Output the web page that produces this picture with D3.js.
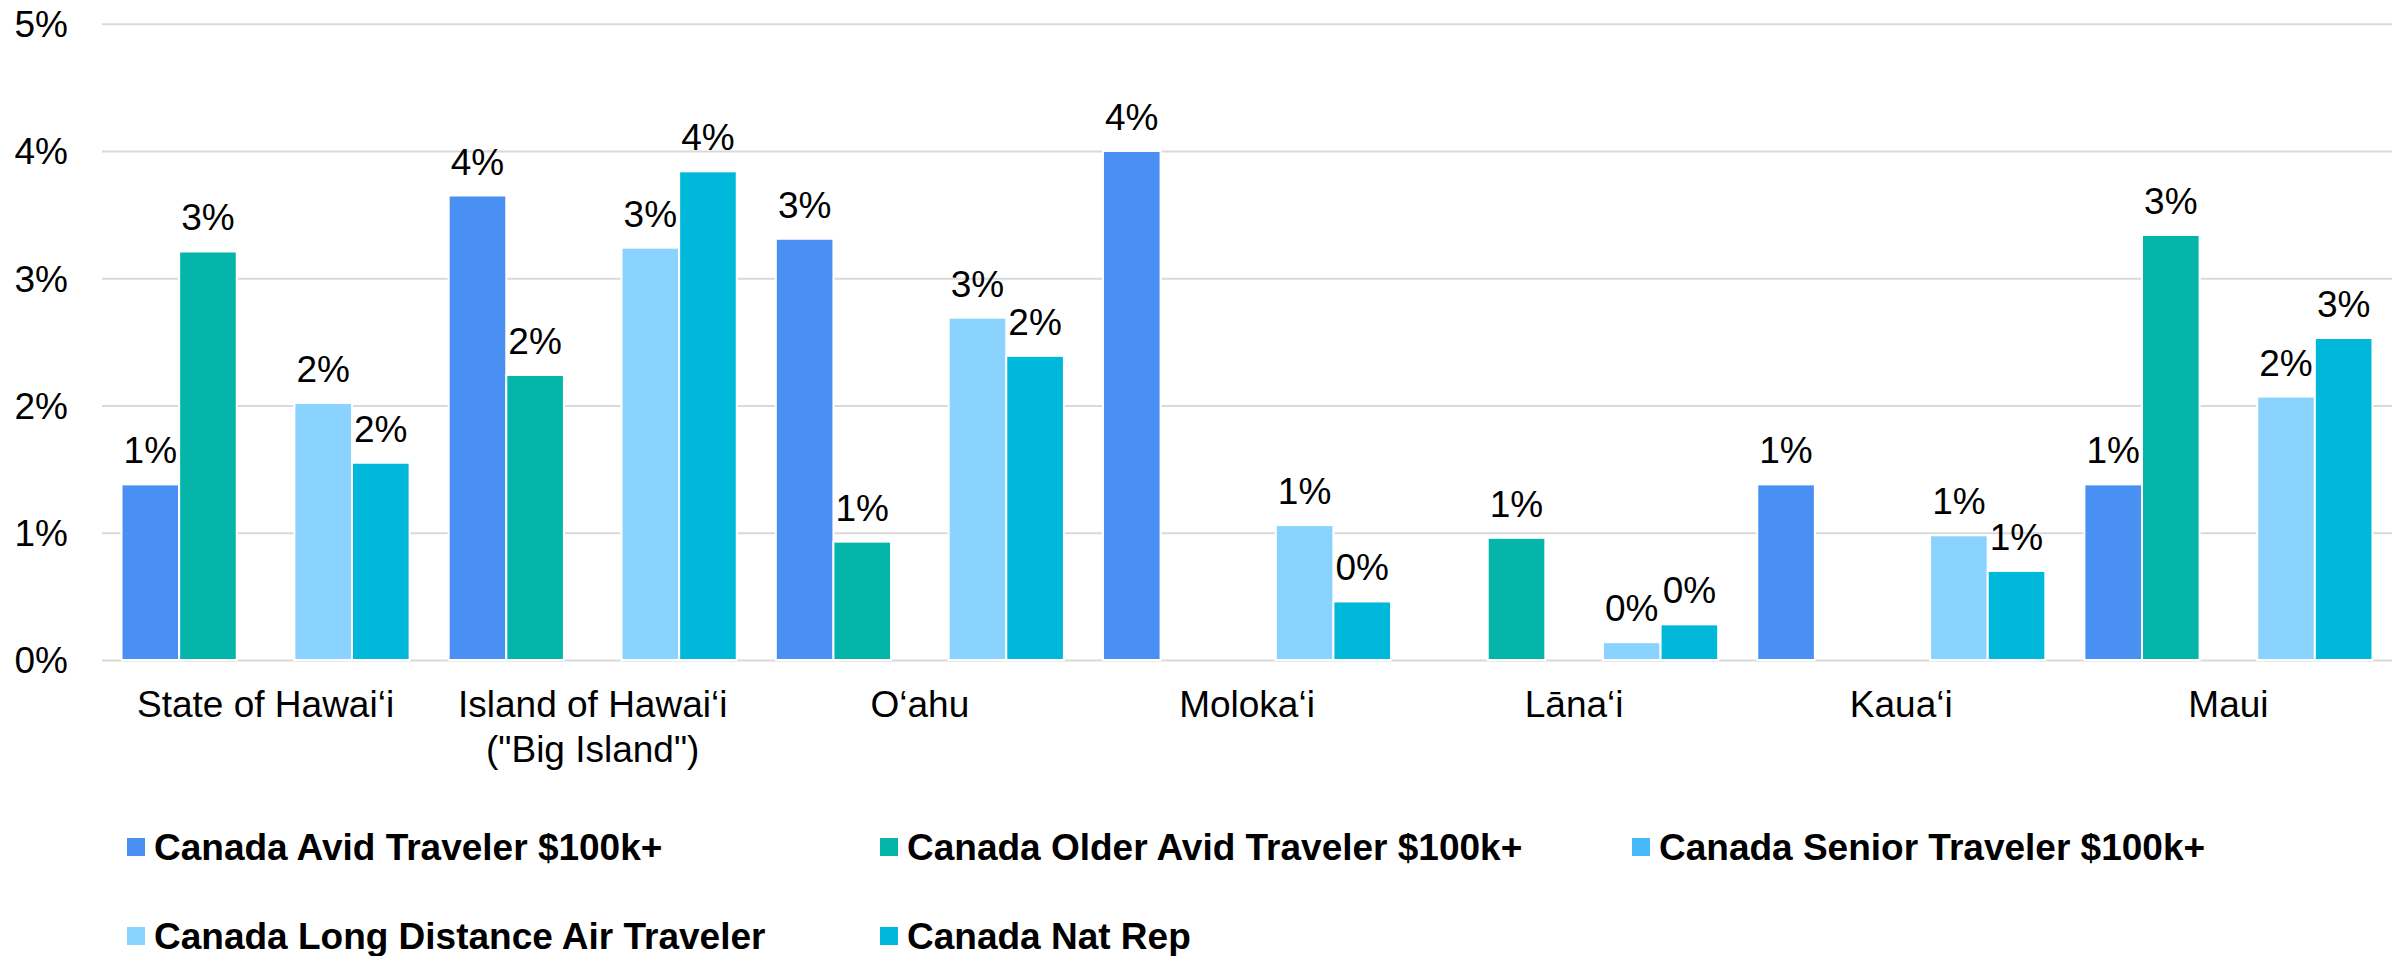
<!DOCTYPE html>
<html>
<head>
<meta charset="utf-8">
<script src="https://cdn.jsdelivr.net/npm/d3@7"></script>
<style>
  body { margin: 0; background: #fff; }
  text { font-family: "Liberation Sans", Arial, sans-serif; fill: #000; }
</style>
</head>
<body>
<div id="chart"></div>
<script>
// categories (each entry is the lines of the x label)
var categories = [
  ["State of Hawai\u2018i"],
  ["Island of Hawai\u2018i", "(\"Big Island\")"],
  ["O\u2018ahu"],
  ["Moloka\u2018i"],
  ["L\u0101na\u2018i"],
  ["Kaua\u2018i"],
  ["Maui"]
];
var seriesNames = [
  "Canada Avid Traveler $100k+",
  "Canada Older Avid Traveler $100k+",
  "Canada Senior Traveler $100k+",
  "Canada Long Distance Air Traveler",
  "Canada Nat Rep"
];
var seriesColors = ["#4A90F2", "#05B5A9", "#45B9FA", "#8AD3FE", "#00B8D9"];

// values (null = no bar)
var avid     = [0.0138, 0.0365, 0.0331, 0.0400, null,   0.0138, 0.0138];
var older    = [0.0321, 0.0224, 0.0093, null,   0.0096, null,   0.0334];
var senior   = [null,   null,   null,   null,   null,   null,   null];
var longDist = [0.0202, 0.0324, 0.0269, 0.0106, 0.0014, 0.0098, 0.0207];
var natRep   = [0.0155, 0.0384, 0.0239, 0.0046, 0.0028, 0.0070, 0.0253];

var yTicks = [0, 0.01, 0.02, 0.03, 0.04, 0.05];

var seriesValues = [avid, older, senior, longDist, natRep];

var W = 2408, H = 956;
var plot = {left: 102, right: 2392, top: 23.7, bottom: 660};

var svg = d3.select("#chart").append("svg")
  .attr("width", W)
  .attr("height", H);

var catKeys = categories.map(function(c, i) { return i; });

var x0 = d3.scaleBand()
  .domain(catKeys)
  .range([plot.left, plot.right])
  .paddingInner(0)
  .paddingOuter(0);

var x1 = d3.scaleBand()
  .domain(seriesNames)
  .range([0, x0.bandwidth()])
  .paddingInner(0)
  .paddingOuter(0.339);

var y = d3.scaleLinear()
  .domain([0, 0.05])
  .range([plot.bottom, plot.top]);

var pct = d3.format(".0%");

// gridlines + y labels
var yAxis = svg.append("g")
  .attr("transform", "translate(" + plot.left + ",0)")
  .call(d3.axisLeft(y)
    .tickValues(yTicks)
    .tickFormat(pct)
    .tickSize(-(plot.right - plot.left))
    .tickPadding(34));
yAxis.select(".domain").remove();
yAxis.selectAll("line")
  .attr("stroke", "#d9d9d9")
  .attr("stroke-width", 2);
yAxis.selectAll("text")
  .attr("font-size", 37)
  .attr("dy", "0.35em")
  .style("fill", "#000");

// bars
var rows = [];
seriesValues.forEach(function(vals, s) {
  vals.forEach(function(v, c) {
    if (v != null) rows.push({cat: c, series: seriesNames[s], color: seriesColors[s], value: v});
  });
});

svg.append("g").selectAll("rect")
  .data(rows)
  .enter().append("rect")
    .attr("x", function(d) { return x0(d.cat) + x1(d.series); })
    .attr("width", x1.bandwidth())
    .attr("y", function(d) { return y(d.value); })
    .attr("height", function(d) { return y(0) - y(d.value); })
    .attr("fill", function(d) { return d.color; })
    .attr("stroke", "#fff")
    .attr("stroke-width", 2);

// data labels
svg.append("g").selectAll("text")
  .data(rows)
  .enter().append("text")
    .attr("x", function(d) { return x0(d.cat) + x1(d.series) + x1.bandwidth() / 2; })
    .attr("y", function(d) { return y(d.value) - 21; })
    .attr("text-anchor", "middle")
    .attr("font-size", 37)
    .text(function(d) { return pct(d.value); });

// x labels
var xl = svg.append("g").selectAll("text")
  .data(categories)
  .enter().append("text")
    .attr("x", function(d, i) { return x0(i) + x0.bandwidth() / 2; })
    .attr("y", 717)
    .attr("text-anchor", "middle")
    .attr("font-size", 37);
xl.selectAll("tspan")
  .data(function(d) { return d; })
  .enter().append("tspan")
    .attr("x", function() { return d3.select(this.parentNode).attr("x"); })
    .attr("dy", function(d, i) { return i === 0 ? 0 : 45; })
    .text(function(d) { return d; });

// legend
var legendPos = [
  {x: 127, y: 847}, {x: 880, y: 847}, {x: 1632, y: 847},
  {x: 127, y: 936}, {x: 880, y: 936}
];
var legend = svg.append("g").selectAll("g")
  .data(seriesNames)
  .enter().append("g")
    .attr("transform", function(d, i) {
      return "translate(" + legendPos[i].x + "," + legendPos[i].y + ")";
    });
legend.append("rect")
  .attr("x", 0)
  .attr("y", -9)
  .attr("width", 18)
  .attr("height", 18)
  .attr("fill", function(d, i) { return seriesColors[i]; });
legend.append("text")
  .attr("x", 27)
  .attr("y", 13)
  .attr("font-size", 37)
  .attr("font-weight", "bold")
  .text(function(d) { return d; });
</script>
</body>
</html>
